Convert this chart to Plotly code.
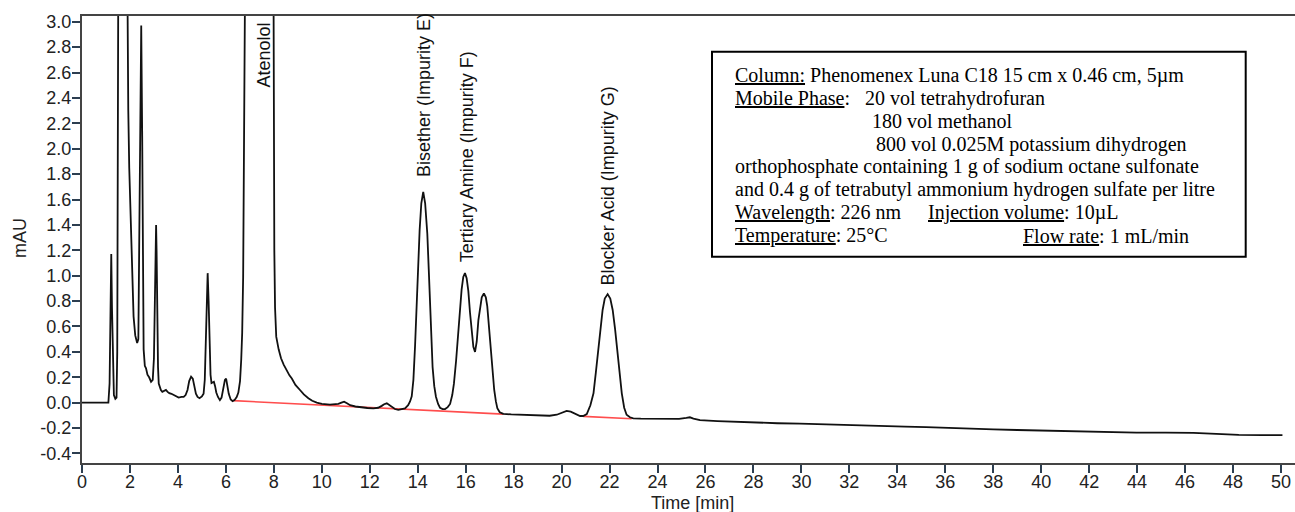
import plotly.graph_objects as go

# ---------------- data ----------------
time_min = [
    0.0, 1.0, 1.1, 1.15, 1.19, 1.22, 1.25, 1.29, 1.33, 1.39, 1.44, 1.47, 1.50, 1.53, 1.6, 1.7, 1.78, 1.85,
    1.89, 1.93, 1.97, 2.02, 2.085, 2.15, 2.22, 2.3, 2.35, 2.39, 2.43, 2.47, 2.51, 2.54, 2.57, 2.62, 2.67,
    2.73, 2.8, 2.88, 2.95, 3.0, 3.04, 3.07, 3.09, 3.11, 3.14, 3.17, 3.2, 3.29, 3.35, 3.42, 3.5, 3.57, 3.64,
    3.73, 3.82, 3.92, 4.03, 4.15, 4.24, 4.32, 4.4, 4.47, 4.55, 4.62, 4.68, 4.75, 4.82, 4.9, 5.0, 5.07, 5.12,
    5.16, 5.2, 5.24, 5.28, 5.32, 5.36, 5.4, 5.45, 5.5, 5.55, 5.6, 5.67, 5.75, 5.82, 5.9, 5.96, 6.01, 6.06,
    6.12, 6.2, 6.28, 6.36, 6.45, 6.52, 6.59, 6.64, 6.68, 6.72, 6.76, 6.8, 6.85, 7.0, 7.3, 7.6, 7.85, 7.95,
    7.99, 8.02, 8.05, 8.1, 8.2, 8.3, 8.41, 8.54, 8.65, 8.75, 8.9, 9.09, 9.25, 9.44, 9.6, 9.79, 10.0, 10.34,
    10.69, 10.82, 10.93, 11.05, 11.18, 11.4, 11.6, 11.9, 12.15, 12.35, 12.5, 12.6, 12.71, 12.82, 12.92,
    13.05, 13.19, 13.33, 13.47, 13.6, 13.68, 13.75, 13.82, 13.89, 13.96, 14.02, 14.08, 14.15, 14.23, 14.31,
    14.4, 14.46, 14.51, 14.57, 14.62, 14.69, 14.76, 14.85, 14.93, 15.04, 15.14, 15.25, 15.35, 15.44, 15.51,
    15.6, 15.69, 15.76, 15.83, 15.9, 15.97, 16.04, 16.11, 16.18, 16.25, 16.32, 16.39, 16.46, 16.53, 16.6,
    16.67, 16.76, 16.84, 16.9, 16.97, 17.05, 17.12, 17.19, 17.26, 17.32, 17.42, 17.57, 17.9, 18.27, 18.7,
    19.1, 19.5, 19.8, 20.0, 20.21, 20.38, 20.56, 20.77, 20.9, 21.05, 21.2, 21.33, 21.43, 21.53, 21.62, 21.71,
    21.8, 21.92, 22.03, 22.13, 22.23, 22.32, 22.42, 22.51, 22.61, 22.71, 22.85, 22.99, 23.3, 23.55, 24.0,
    24.38, 24.9, 25.2, 25.35, 25.5, 25.77, 26.5, 27.2, 27.86, 28.15, 29.0, 29.94, 31.0, 32.1, 33.2, 34.32,
    35.2, 36.06, 37.0, 38.0, 39.0, 40.02, 41.0, 42.0, 43.0, 43.97, 45.2, 46.35, 47.3, 48.24, 49.2, 50.06,
]
absorbance_mau = [
    0.0, -0.005, 0.0, 0.15, 0.75, 1.17, 0.75, 0.2, 0.06, 0.03, 0.04, 0.4, 2.0, 4.5, 12, 18, 12, 4.5,
    2.9, 2.3, 1.85, 1.52, 0.99, 0.68, 0.53, 0.47, 0.5, 1.2, 2.3, 2.97, 2.1, 1.0, 0.42, 0.29, 0.27,
    0.22, 0.2, 0.165, 0.18, 0.35, 0.8, 1.25, 1.40, 1.2, 0.6, 0.28, 0.15, 0.10, 0.085, 0.09, 0.10, 0.085, 0.075,
    0.07, 0.06, 0.05, 0.04, 0.045, 0.045, 0.06, 0.10, 0.17, 0.205, 0.19, 0.13, 0.07, 0.045, 0.035, 0.05, 0.07, 0.18,
    0.45, 0.82, 1.02, 0.8, 0.45, 0.22, 0.155, 0.16, 0.165, 0.13, 0.08, 0.045, 0.02, 0.04, 0.12, 0.18, 0.19, 0.14,
    0.07, 0.025, 0.012, 0.02, 0.045, 0.08, 0.17, 0.34, 0.55, 0.99, 2.0, 3.3, 6, 18, 40, 30, 12, 4.5,
    2.5, 1.2, 0.75, 0.52, 0.42, 0.35, 0.30, 0.25, 0.215, 0.19, 0.14, 0.10, 0.065, 0.035, 0.015, 0.0, -0.01, -0.016,
    -0.01, 0.0, 0.008, -0.005, -0.02, -0.03, -0.036, -0.042, -0.045, -0.04, -0.025, -0.012, -0.005, -0.018, -0.036,
    -0.05, -0.057, -0.053, -0.045, -0.02, 0.01, 0.05, 0.18, 0.45, 0.81, 1.1, 1.36, 1.57, 1.66, 1.57,
    1.33, 1.05, 0.81, 0.5, 0.28, 0.13, 0.047, -0.01, -0.04, -0.05, -0.05, -0.035, -0.01, 0.06, 0.15,
    0.33, 0.55, 0.74, 0.89, 0.99, 1.02, 0.98, 0.88, 0.71, 0.55, 0.44, 0.40, 0.48, 0.65, 0.76,
    0.83, 0.86, 0.83, 0.76, 0.6, 0.41, 0.23, 0.10, 0.01, -0.044, -0.075, -0.088, -0.092, -0.095, -0.10,
    -0.105, -0.103, -0.095, -0.078, -0.065, -0.07, -0.085, -0.105, -0.105, -0.09, -0.02, 0.074, 0.24, 0.415, 0.6, 0.73,
    0.82, 0.855, 0.82, 0.73, 0.58, 0.415, 0.22, 0.074, -0.04, -0.095, -0.115, -0.123, -0.125, -0.125, -0.128,
    -0.13, -0.128, -0.12, -0.115, -0.125, -0.138, -0.145, -0.15, -0.155, -0.16, -0.162, -0.165, -0.172, -0.18, -0.184, -0.189,
    -0.193, -0.20, -0.205, -0.21, -0.215, -0.22, -0.224, -0.228, -0.232, -0.236, -0.236, -0.238, -0.246, -0.254, -0.255, -0.256,
]

# integration baselines (red)
baseline1_t = [6.31, 17.57]
baseline1_y = [0.016, -0.09]
baseline2_t = [20.9, 22.92]
baseline2_y = [-0.108, -0.126]

# peak labels
peak_names = ["Atenolol", "Bisether (Impurity E)", "Tertiary Amine (Impurity F)", "Blocker Acid (Impurity G)"]
peak_label_t = [7.57, 14.26, 16.04, 21.95]
peak_label_y = [2.738, 2.423, 1.937, 1.706]

# axis ticks
x_tickvals = list(range(0, 51, 2))
x_ticktext = [str(v) for v in x_tickvals]
y_tickvals = [-0.4, -0.2, 0.0, 0.2, 0.4, 0.6, 0.8, 1.0, 1.2, 1.4, 1.6, 1.8, 2.0, 2.2, 2.4, 2.6, 2.8, 3.0]
y_ticktext = ["-0.4", "-0.2", "0.0", "0.2", "0.4", "0.6", "0.8", "1.0", "1.2", "1.4", "1.6", "1.8",
              "2.0", "2.2", "2.4", "2.6", "2.8", "3.0"]

# conditions box text (segments: text, left pixel x, line index)
cond_segments = [
    ("<u>Column:</u> Phenomenex Luna C18 15 cm x 0.46 cm, 5µm", 733, 0),
    ("<u>Mobile Phase</u>:", 733, 1),
    ("20 vol tetrahydrofuran", 863, 1),
    ("180 vol methanol", 870, 2),
    ("800 vol 0.025M potassium dihydrogen", 874, 3),
    ("orthophosphate containing 1 g of sodium octane sulfonate", 733, 4),
    ("and 0.4 g of tetrabutyl ammonium hydrogen sulfate per litre", 733, 5),
    ("<u>Wavelength</u>: 226 nm", 733, 6),
    ("<u>Injection volume</u>: 10µL", 926, 6),
    ("<u>Temperature</u>: 25°C", 733, 7),
    ("<u>Flow rate</u>: 1 mL/min", 1021, 7),
]

# ---------------- layout geometry ----------------
W, H = 1295, 512
ML, MR, MT, MB = 82, 0, 16, 49
PW, PH = W - ML - MR, H - MT - MB


def px_x(px):
    return (px - ML) / PW


def px_y(py):
    return (H - MB - py) / PH


SANS = "Liberation Sans, Arial, sans-serif"
SERIF = "Liberation Serif, Times New Roman, serif"

fig = go.Figure()
fig.add_trace(go.Scatter(x=baseline1_t, y=baseline1_y, mode="lines",
                         line=dict(color="#ff4d4d", width=1.6), hoverinfo="skip"))
fig.add_trace(go.Scatter(x=baseline2_t, y=baseline2_y, mode="lines",
                         line=dict(color="#ff4d4d", width=1.6), hoverinfo="skip"))
fig.add_trace(go.Scatter(x=time_min, y=absorbance_mau, mode="lines",
                         line=dict(color="#111111", width=1.8)))

annotations = []
for name, t, yv in zip(peak_names, peak_label_t, peak_label_y):
    annotations.append(dict(x=t, y=yv, xref="x", yref="y", text=name, showarrow=False,
                            textangle=-90, xanchor="center", yanchor="middle",
                            font=dict(family=SANS, size=18, color="#111111")))

line_centers = [75.5, 98.4, 121.2, 144.1, 166.9, 189.8, 212.7, 235.5]
for text, left_px, li in cond_segments:
    annotations.append(dict(x=px_x(left_px), y=px_y(line_centers[li]), xref="paper", yref="paper",
                            text=text, showarrow=False, xanchor="left", yanchor="middle",
                            font=dict(family=SERIF, size=20, color="#000000")))

annotations.append(dict(x=px_x(20), y=px_y(238), xref="paper", yref="paper", text="mAU",
                        showarrow=False, textangle=-90, xanchor="center", yanchor="middle",
                        font=dict(family=SANS, size=18, color="#222222")))
annotations.append(dict(x=px_x(692), y=px_y(503), xref="paper", yref="paper", text="Time [min]",
                        showarrow=False, xanchor="center", yanchor="middle",
                        font=dict(family=SANS, size=18, color="#222222")))

shapes = [dict(type="rect", xref="paper", yref="paper",
               x0=px_x(712), x1=px_x(1245.7), y0=px_y(256.7), y1=px_y(51.7),
               line=dict(color="#000000", width=2), fillcolor="rgba(0,0,0,0)", layer="above")]

fig.update_layout(
    width=W, height=H,
    margin=dict(l=ML, r=MR, t=MT, b=MB, pad=0),
    paper_bgcolor="white", plot_bgcolor="white",
    showlegend=False,
    annotations=annotations,
    shapes=shapes,
    xaxis=dict(range=[0, PW / 23.98], tickvals=x_tickvals, ticktext=x_ticktext,
               showgrid=False, zeroline=False, showline=True, linecolor="#444444", linewidth=2,
               mirror=True, ticks="outside", ticklen=8, tickwidth=2, tickcolor="#2c3e50",
               ticklabelstandoff=-7,
               tickfont=dict(family=SANS, size=18, color="#222222")),
    yaxis=dict(range=[-0.475, 3.045], tickvals=y_tickvals, ticktext=y_ticktext,
               showgrid=False, zeroline=False, showline=True, linecolor="#444444", linewidth=2,
               ticks="outside", ticklen=8, tickwidth=2, tickcolor="#2c3e50",
               ticklabelstandoff=-3,
               tickfont=dict(family=SANS, size=18, color="#222222")),
)

fig.write_html("out.html",
               config={"displayModeBar": False},
               post_script="document.body.style.margin='0px';document.body.style.overflow='hidden';")
